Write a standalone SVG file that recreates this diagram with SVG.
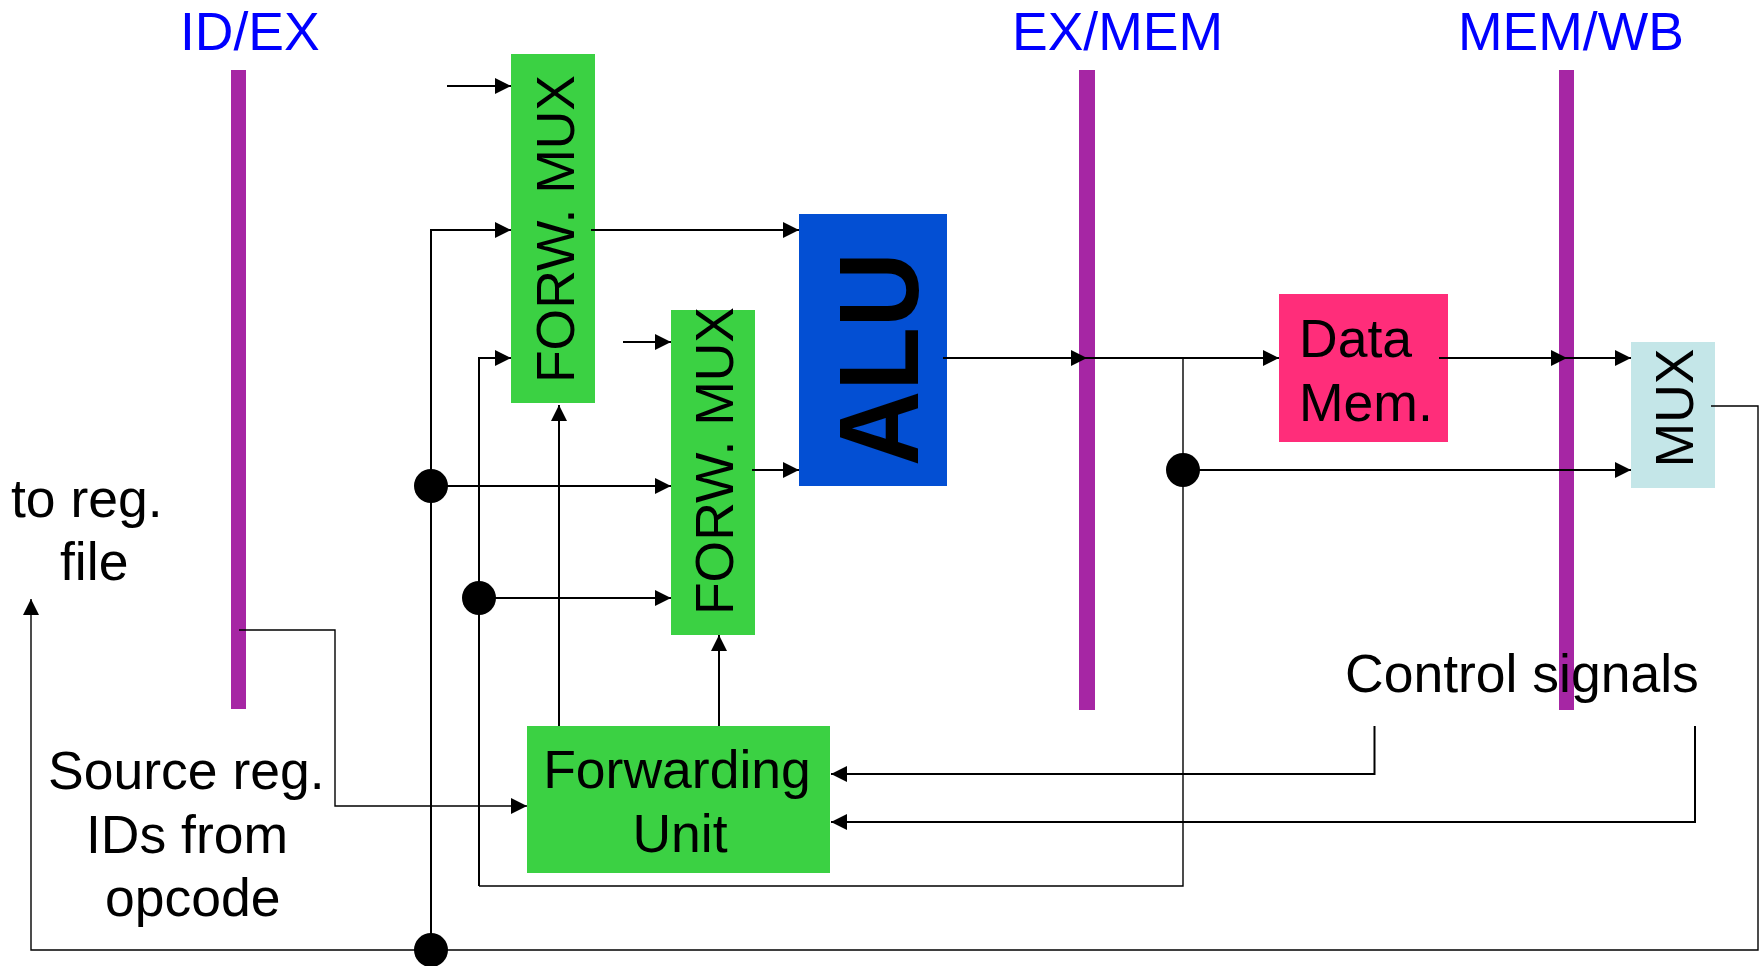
<svg xmlns="http://www.w3.org/2000/svg" width="1759" height="966" viewBox="0 0 1759 966">
<style>
  .lbl { font-family: "Liberation Sans", Arial, sans-serif; font-size: 53.5px; fill: #000; }
  .stage { font-family: "Liberation Sans", Arial, sans-serif; font-size: 53.5px; fill: #0000ff; }
  .bar { fill: #a626a4; }
  .green { fill: #3bd143; }
  .w { fill: none; stroke: #000; stroke-width: 2; }
  .t { fill: none; stroke: #000; stroke-width: 1.4; }
  .dot { fill: #000; }
</style>
<defs>
  <marker id="arr" markerUnits="userSpaceOnUse" markerWidth="17" markerHeight="17" refX="16" refY="8" orient="auto">
    <path d="M0,0 L16,8 L0,16 Z" fill="#000"/>
  </marker>
</defs>
<rect width="1759" height="966" fill="#fff"/>

<g id="pipeline-registers">
  <rect class="bar" x="231" y="70" width="15" height="639"/>
  <rect class="bar" x="1079" y="70" width="16" height="640"/>
  <rect class="bar" x="1559" y="70" width="15" height="640"/>
  <text class="stage" x="180" y="50">ID/EX</text>
  <text class="stage" x="1012" y="50">EX/MEM</text>
  <text class="stage" x="1458" y="50">MEM/WB</text>
</g>

<g id="fwd-mux-1">
  <rect class="green" x="511" y="54" width="84" height="349"/>
  <text class="lbl" transform="translate(574,229) rotate(-90)" text-anchor="middle">FORW. MUX</text>
</g>

<g id="fwd-mux-2">
  <rect class="green" x="671" y="310" width="84" height="325"/>
  <text class="lbl" transform="translate(733,461) rotate(-90)" text-anchor="middle">FORW. MUX</text>
</g>

<g id="alu">
  <rect x="799" y="214" width="148" height="272" fill="#034fd3"/>
  <text transform="translate(918,359) rotate(-90)" text-anchor="middle" font-family="Liberation Sans, Arial, sans-serif" font-weight="bold" font-size="113" textLength="214" lengthAdjust="spacingAndGlyphs">ALU</text>
</g>

<g id="data-mem">
  <rect x="1279" y="294" width="169" height="148" fill="#ff2d7a"/>
  <text class="lbl" x="1299" y="357">Data</text>
  <text class="lbl" x="1299" y="421">Mem.</text>
</g>

<g id="wb-mux">
  <rect x="1631" y="342" width="84" height="146" fill="#c4e6e8"/>
  <text class="lbl" transform="translate(1693,408) rotate(-90)" text-anchor="middle">MUX</text>
</g>

<g id="forwarding-unit">
  <rect class="green" x="527" y="726" width="303" height="147"/>
  <text class="lbl" x="677" y="788" text-anchor="middle">Forwarding</text>
  <text class="lbl" x="680" y="852" text-anchor="middle">Unit</text>
</g>

<g id="labels">
  <text class="lbl" x="11" y="517">to reg.</text>
  <text class="lbl" x="60" y="580">file</text>
  <text class="lbl" x="48" y="789">Source reg.</text>
  <text class="lbl" x="86" y="853">IDs from</text>
  <text class="lbl" x="105" y="916">opcode</text>
  <text class="lbl" x="1345" y="692">Control signals</text>
</g>

<g id="connectors">
  <line class="w" x1="447" y1="86" x2="511" y2="86" marker-end="url(#arr)"/>
  <path class="w" d="M431,950 V230 H511" marker-end="url(#arr)"/>
  <line class="w" x1="431" y1="486" x2="671" y2="486" marker-end="url(#arr)"/>
  <path class="w" d="M479,886 V358 H511" marker-end="url(#arr)"/>
  <line class="w" x1="479" y1="598" x2="671" y2="598" marker-end="url(#arr)"/>
  <path class="t" d="M479,886 H1183 V358"/>
  <line class="w" x1="591" y1="230" x2="799" y2="230" marker-end="url(#arr)"/>
  <line class="w" x1="623" y1="342" x2="671" y2="342" marker-end="url(#arr)"/>
  <line class="w" x1="752" y1="470" x2="799" y2="470" marker-end="url(#arr)"/>
  <line class="w" x1="559" y1="726" x2="559" y2="405" marker-end="url(#arr)"/>
  <line class="w" x1="719" y1="726" x2="719" y2="635" marker-end="url(#arr)"/>
  <line class="w" x1="943" y1="358" x2="1087" y2="358" marker-end="url(#arr)"/>
  <line class="w" x1="1087" y1="358" x2="1279" y2="358" marker-end="url(#arr)"/>
  <line class="w" x1="1183" y1="470" x2="1631" y2="470" marker-end="url(#arr)"/>
  <line class="w" x1="1439" y1="358" x2="1567" y2="358" marker-end="url(#arr)"/>
  <line class="w" x1="1567" y1="358" x2="1631" y2="358" marker-end="url(#arr)"/>
  <path class="t" d="M1711,406 H1758 V950 H31 V599" marker-end="url(#arr)"/>
  <path class="t" d="M239,630 H335 V806 H527" marker-end="url(#arr)"/>
  <path class="w" d="M1374.5,726 V774 H831" marker-end="url(#arr)"/>
  <path class="w" d="M1695,726 V822 H831" marker-end="url(#arr)"/>
  <circle class="dot" cx="431" cy="486" r="17"/>
  <circle class="dot" cx="431" cy="950" r="17"/>
  <circle class="dot" cx="479" cy="598" r="17"/>
  <circle class="dot" cx="1183" cy="470" r="17"/>
</g>
</svg>
